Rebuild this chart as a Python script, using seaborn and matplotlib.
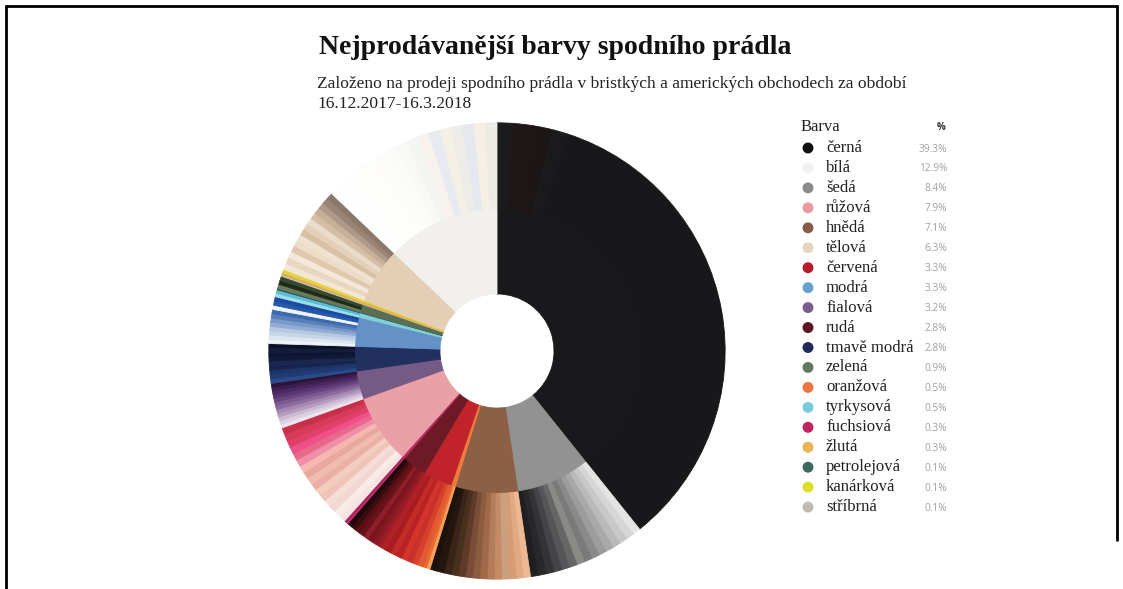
import matplotlib
matplotlib.use("Agg")
import matplotlib.pyplot as plt
from matplotlib.lines import Line2D
import seaborn as sns
import pandas as pd

sns.set_style("white")
plt.rcParams['font.family'] = ['Liberation Serif', 'DejaVu Serif']

W, H = 1123, 589

# legend order (by share)
names = ['černá', 'bílá', 'šedá', 'růžová', 'hnědá', 'tělová', 'červená', 'modrá',
         'fialová', 'rudá', 'tmavě modrá', 'zelená', 'oranžová', 'tyrkysová',
         'fuchsiová', 'žlutá', 'petrolejová', 'kanárková', 'stříbrná']
shares = [39.3, 12.9, 8.4, 7.9, 7.1, 6.3, 3.3, 3.3, 3.2, 2.8, 2.8, 0.9, 0.5, 0.5,
          0.3, 0.3, 0.1, 0.1, 0.1]
legend_colors = ['#111111', '#f0f0f0', '#8c8c8c', '#eb9aa3', '#875c44', '#e8d5bd',
                 '#b71c2a', '#6a9fd1', '#7b5b8a', '#5d1320', '#1f2b5a', '#607a5f',
                 '#ee7541', '#78cbdb', '#bd2560', '#e8b650', '#3c6a5e', '#dede2a',
                 '#bfbab2']

# order around the ring, clockwise from 12 o'clock
ring_order = ['černá', 'šedá', 'hnědá', 'oranžová', 'červená', 'rudá', 'fuchsiová',
              'růžová', 'fialová', 'tmavě modrá', 'modrá', 'tyrkysová', 'petrolejová',
              'zelená', 'stříbrná', 'žlutá', 'kanárková', 'tělová', 'bílá']

inner_colors = {
    'černá': '#19191b', 'šedá': '#929292', 'hnědá': '#8c5f47', 'oranžová': '#f07a3a',
    'červená': '#c0232a', 'rudá': '#6e1a26', 'fuchsiová': '#b82a5c', 'růžová': '#e9a0a6',
    'fialová': '#765a86', 'tmavě modrá': '#22305f', 'modrá': '#6592c6',
    'tyrkysová': '#7fd0dc', 'petrolejová': '#3a6a5e', 'zelená': '#5a6e52',
    'stříbrná': '#b8b4ac', 'žlutá': '#e3b548', 'kanárková': '#e2df2e',
    'tělová': '#e4cfb6', 'bílá': '#f1f0ec',
}

# shades sold within each colour (outer ring), clockwise
outer_shades = {
    'černá': ['#1b1a1c', '#1e1717', '#1c1616', '#1a1a1c', '#18181a'],
    'šedá': ['#e4e4e4', '#d6d6d6', '#c8c8c8', '#bababa', '#a9a9a9', '#9c9c9c', '#8a8a8a',
             '#7a7a7a', '#8c8a86', '#666666', '#555557', '#444446', '#333335', '#28282a',
             '#1f1f21'],
    'hnědá': ['#ecb992', '#e2aa82', '#d69c74', '#caa080', '#c48b65', '#b47c58', '#a06a48',
              '#8c5c40', '#7a4e36', '#5e3a28', '#48301f', '#3a2418', '#24160f', '#1c120d'],
    'oranžová': ['#f5a060', '#ea6a2e'],
    'červená': ['#e05a34', '#d8402a', '#c8302a', '#d4342a', '#b82224', '#c42a26',
                '#a81c20', '#b02026'],
    'rudá': ['#9a1c24', '#861822', '#7a141e', '#8e1e28', '#6a121a', '#5a0f16',
             '#3a0a0e', '#1c0808'],
    'fuchsiová': ['#c02a68', '#a8205a'],
    'růžová': ['#f6e4e2', '#f8ece8', '#f2d6d2', '#f6ddd6', '#eec4b6', '#f2cdc0',
               '#eab0a6', '#f0bcb0', '#e8a89e', '#f4b8b0', '#f090a8', '#e86a8a',
               '#f0508a', '#e0406a', '#d83a5a', '#c8304a'],
    'fialová': ['#ece4ee', '#dcd0e0', '#cdbad2', '#b49cc0', '#a488b0', '#8c6ca0',
                '#7e5a90', '#6a4480', '#5a3670', '#4a2860', '#3e1e52', '#2a1438'],
    'tmavě modrá': ['#2a4a88', '#1e3a78', '#203466', '#15244e', '#1a2850', '#101a38',
                    '#0c1430', '#141c3c', '#0a1028'],
    'modrá': ['#eef2f6', '#dce6f0', '#c4d6e8', '#b4c8e0', '#90acd4', '#7898c8',
              '#5a7eb8', '#3a6ab0', '#f0f4f8', '#2458a8', '#1a4aa0'],
    'tyrkysová': ['#9edeea', '#5cbcd4'],
    'petrolejová': ['#2a5a5a'],
    'zelená': ['#6a7a58', '#1e2a1a', '#3a4a30'],
    'stříbrná': ['#c8c6be'],
    'žlutá': ['#d8b040', '#e8c860'],
    'kanárková': ['#e8d820'],
    'tělová': ['#f2e6d6', '#e8d6c0', '#f4e8da', '#e0c8ac', '#ecdcc8', '#f0e2d0',
               '#d8c0a4', '#e4d0b8', '#eadccb', '#d6bea6', '#c8b098', '#b09888',
               '#9a8474', '#8a7868'],
    'bílá': ['#ffffff', '#fefefe', '#fefefd', '#fdfdfc', '#fefdfb', '#fcfcfb',
             '#fbfbfa', '#f8f8f6', '#f4f4f2', '#f7f3ec', '#e8eaf2', '#f4f0e4',
             '#eeece8', '#e6e8f0', '#f6f0e4', '#ecebe6'],
}
outer_weights = {'černá': [1, 1.5, 1.5, 1, 34.3]}

share_of = dict(zip(names, shares))

# ---- figure ----
fig = plt.figure(figsize=(W / 100, H / 100), dpi=100)

# donut axes, centre (497, 351) px, outer radius ~228 px
cx, cy, R = 497, 351, 235
ax = fig.add_axes([(cx - R) / W, (H - cy - R) / H, 2 * R / W, 2 * R / H])

inner_sizes = [share_of[n] for n in ring_order]
inner_cols = [inner_colors[n] for n in ring_order]

outer_sizes, outer_cols = [], []
for n in ring_order:
    shades = outer_shades[n]
    w = outer_weights.get(n, [1] * len(shades))
    tot = sum(w)
    for c, wi in zip(shades, w):
        outer_sizes.append(share_of[n] * wi / tot)
        outer_cols.append(c)

for sizes, cols, rad, width in [(outer_sizes, outer_cols, 1.0, 0.385),
                                (inner_sizes, inner_cols, 0.62, 0.37)]:
    wedges, _ = ax.pie(sizes, colors=cols, radius=rad, startangle=90,
                       counterclock=False, wedgeprops=dict(width=width, linewidth=0))
    for wdg in wedges:
        wdg.set_edgecolor(wdg.get_facecolor())
        wdg.set_linewidth(0.6)

ax.set_xlim(-1.03, 1.03)
ax.set_ylim(-1.03, 1.03)
ax.set_aspect('equal')
ax.axis('off')

# ---- legend (pixel coordinates) ----
lax = fig.add_axes([0, 0, 1, 1])
lax.set_xlim(0, W)
lax.set_ylim(H, 0)
lax.axis('off')

row0, step = 148, 19.95
leg = pd.DataFrame({'name': names, 'share': shares,
                    'y': [row0 + step * i for i in range(len(names))]})
leg['x'] = 808
sns.scatterplot(data=leg, x='x', y='y', hue='name', palette=dict(zip(names, legend_colors)),
                s=62, linewidth=0, legend=False, ax=lax)
for _, r in leg.iterrows():
    lax.text(826, r['y'], r['name'], fontsize=12, va='center', ha='left', color='#222222')
    lax.text(947, r['y'] + 1, f"{r['share']:.1f}%", fontsize=7.3, va='center', ha='right',
             color='#a0a0a0', family=['Open Sans', 'DejaVu Sans'])
lax.text(801, 127, 'Barva', fontsize=12, va='center', ha='left', color='#222222')
lax.text(941, 128, '%', fontsize=7, va='center', ha='center', color='#333333',
         family=['Open Sans', 'DejaVu Sans'], fontweight='bold')

# ---- titles ----
lax.text(555, 47, 'Nejprodávanější barvy spodního prádla', fontsize=20,
         fontweight='bold', ha='center', va='center', color='#111111')
lax.text(317, 84, 'Založeno na prodeji spodního prádla v bristkých a amerických obchodech za období',
         fontsize=12.6, ha='left', va='center', color='#222222')
lax.text(317, 104, '16.12.2017-16.3.2018', fontsize=12.6, ha='left', va='center', color='#222222')

# ---- frame ----
lax.add_line(Line2D([6, 6], [6, H], color='black', lw=2))
lax.add_line(Line2D([6, 1117], [6, 6], color='black', lw=2))
lax.add_line(Line2D([1117, 1117], [6, 540], color='black', lw=2))

fig.savefig('out.png', dpi=100)
